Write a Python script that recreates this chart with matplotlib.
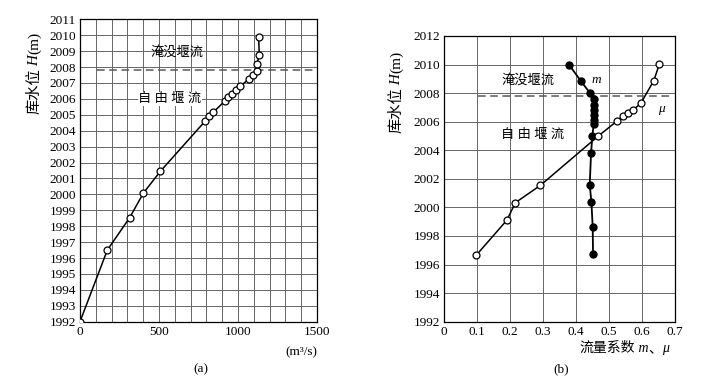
import numpy as np
import matplotlib.pyplot as plt

plt.rcParams['font.family'] = ['Liberation Serif', 'Noto Sans CJK SC']
plt.rcParams['font.size'] = 9.5

# (a) discharge vs reservoir level
q_flow = [0, 173, 314, 402, 508, 792, 817, 843, 916, 940, 965, 990, 1015,
          1068, 1095, 1121, 1119, 1135, 1131]
h_flow = [1992.0, 1996.5, 1998.53, 2000.09, 2001.44, 2004.6, 2004.9, 2005.15,
          2005.86, 2006.1, 2006.31, 2006.54, 2006.79, 2007.25, 2007.5, 2007.76,
          2008.16, 2008.75, 2009.86]

# (b) discharge coefficients
m_coef = [0.451, 0.45, 0.446, 0.441, 0.445, 0.449, 0.453, 0.453, 0.453,
          0.453, 0.453, 0.453, 0.441, 0.414, 0.378]
h_m = [1996.76, 1998.63, 2000.38, 2001.59, 2003.81, 2005.0, 2005.86, 2006.14,
       2006.49, 2006.79, 2007.16, 2007.58, 2008.03, 2008.85, 2010.0]
mu_coef = [0.097, 0.19, 0.216, 0.292, 0.467, 0.525, 0.543, 0.557, 0.573,
           0.596, 0.635, 0.652]
h_mu = [1996.64, 1999.1, 2000.33, 2001.55, 2005.0, 2006.07, 2006.42, 2006.58,
        2006.83, 2007.3, 2008.88, 2010.05]

h_split = 2007.8

ylab_parts = [('库水位', 'normal'), (' H', 'italic'), ('(m)', 'normal')]
xlab_parts = [('流量系数', 'normal'), (' m', 'italic'), ('、', 'normal'),
              ('μ', 'italic')]


def chain_text(fig, cx, cy, parts, size, vertical):
    # put text pieces in a row (or column, rotated) centred at cx, cy
    texts = [fig.text(0, 0, s, style=st, fontsize=size,
                      rotation=90 if vertical else 0,
                      ha='center' if vertical else 'left',
                      va='bottom' if vertical else 'baseline')
             for s, st in parts]
    r = fig.canvas.get_renderer()
    sizes = [t.get_window_extent(r) for t in texts]
    W, H = fig.bbox.width, fig.bbox.height
    if vertical:
        total = sum(b.height for b in sizes)
        pos = cy * H - total / 2
        for t, b in zip(texts, sizes):
            t.set_position((cx, pos / H))
            pos += b.height
    else:
        total = sum(b.width for b in sizes)
        pos = cx * W - total / 2
        for t, b in zip(texts, sizes):
            t.set_position((pos / W, cy))
            pos += b.width


fig = plt.figure(figsize=(7.11, 3.76), dpi=100)
ax1 = fig.add_axes([0.1125, 0.1444, 0.3333, 0.8043])
ax2 = fig.add_axes([0.6245, 0.1444, 0.3253, 0.7599])

grid_kw = dict(color='0.4', linewidth=0.7)

# ---- (a)
ax1.set_xlim(0, 1500)
ax1.set_ylim(1992, 2011)
ax1.set_xticks(np.arange(0, 1501, 100), minor=True)
ax1.set_xticks([0, 500, 1000, 1500])
ax1.set_yticks(np.arange(1992, 2012, 1))
ax1.grid(True, which='both', **grid_kw)
ax1.set_axisbelow(True)
ax1.tick_params(which='both', length=0, pad=3)
ax1.plot(q_flow, h_flow, color='black', lw=1.1, marker='o', ms=5,
         mfc='white', mec='black', mew=0.9, zorder=3)
ax1.plot([105, 1490], [h_split, h_split], color='0.35', lw=1.1,
         dashes=(5, 3), zorder=2)
ax1.text(611, 2008.95, '淹没堰流', ha='center', va='center', fontsize=9.5)
ax1.text(569, 2006.0, '自 由 堰 流', ha='center', va='center', fontsize=9.5,
         bbox=dict(fc='white', ec='none', pad=0.5))
ax1.text(1.0, -0.1, '(m³/s)', transform=ax1.transAxes, ha='right',
         va='center')
fig.text(0.283, 0.017, '(a)', ha='center', va='center')

# ---- (b)
ax2.set_xlim(0, 0.7)
ax2.set_ylim(1992, 2012)
ax2.set_xticks(np.arange(0, 0.71, 0.1))
ax2.set_xticklabels(['0', '0.1', '0.2', '0.3', '0.4', '0.5', '0.6', '0.7'])
ax2.set_yticks(np.arange(1992, 2013, 2))
ax2.grid(True, **grid_kw)
ax2.set_axisbelow(True)
ax2.tick_params(length=0, pad=3)
ax2.plot(m_coef, h_m, color='black', lw=1.3, marker='o', ms=5,
         mfc='black', mec='black', zorder=3)
ax2.plot(mu_coef, h_mu, color='black', lw=1.1, marker='o', ms=5,
         mfc='white', mec='black', mew=0.9, zorder=4)
ax2.plot([0.104, 0.694], [h_split - 0.03, h_split - 0.03], color='0.35',
         lw=1.1, dashes=(5, 3), zorder=2)
ax2.text(0.255, 2008.9, '淹没堰流', ha='center', va='center')
ax2.text(0.268, 2005.1, '自 由 堰 流', ha='center', va='center')
ax2.text(0.462, 2008.9, 'm', style='italic', ha='center', va='center')
ax2.text(0.657, 2006.9, 'μ', style='italic', ha='center', va='center')
fig.text(0.789, 0.017, '(b)', ha='center', va='center')

chain_text(fig, 0.049, 0.806, ylab_parts, 11, True)
chain_text(fig, 0.558, 0.755, ylab_parts, 11, True)
chain_text(fig, 0.878, 0.064, xlab_parts, 10, False)

for ax in (ax1, ax2):
    for s in ax.spines.values():
        s.set_linewidth(0.9)

fig.savefig('out.png', dpi=100)
